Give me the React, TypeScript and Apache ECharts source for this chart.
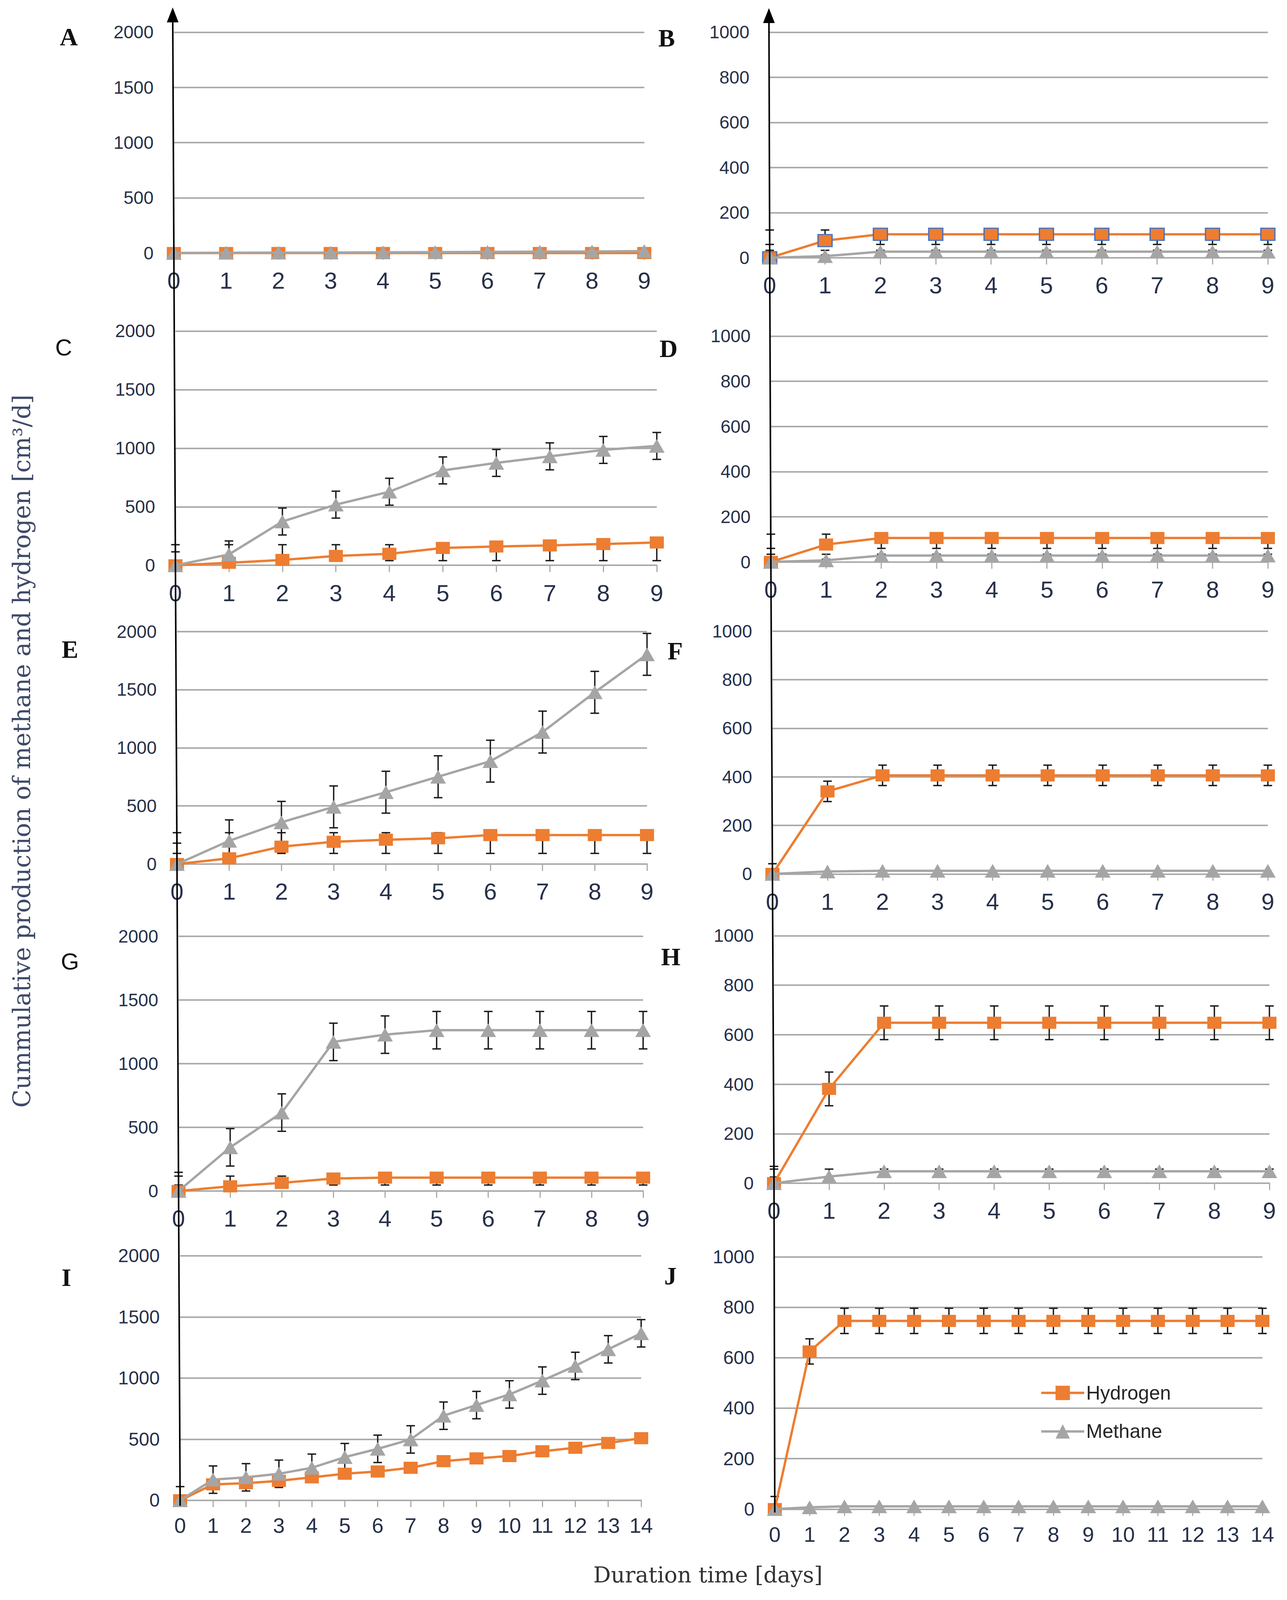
import { useEffect, useRef } from 'react';
import * as echarts from 'echarts';

// x values (days)
const days9 = [0, 1, 2, 3, 4, 5, 6, 7, 8, 9];
const days14 = [0, 1, 2, 3, 4, 5, 6, 7, 8, 9, 10, 11, 12, 13, 14];

// cumulative production, cm3/d
const hydrogenA = [0, 0, 0, 0, 0, 0, 0, 0, 0, 0];
const methaneA = [0, 2, 3, 4, 6, 8, 10, 12, 14, 17];
const hydrogenB = [0, 76, 104, 104, 104, 104, 104, 104, 104, 104];
const methaneB = [0, 7, 27, 27, 27, 27, 27, 27, 27, 27];
const hydrogenC = [0, 22, 46, 80, 98, 148, 161, 170, 182, 195];
const methaneC = [0, 93, 374, 518, 628, 810, 874, 930, 985, 1019];
const hydrogenD = [0, 77, 106, 106, 106, 106, 106, 106, 106, 106];
const methaneD = [0, 7, 28, 28, 28, 28, 28, 28, 28, 28];
const hydrogenE = [0, 50, 150, 192, 209, 222, 250, 250, 250, 250];
const methaneE = [0, 200, 359, 492, 618, 751, 885, 1135, 1477, 1803];
const hydrogenF = [0, 340, 406, 406, 406, 406, 406, 406, 406, 406];
const methaneF = [0, 10, 13, 13, 13, 13, 13, 13, 13, 13];
const hydrogenG = [0, 37, 64, 98, 105, 105, 105, 105, 105, 105];
const methaneG = [0, 343, 616, 1171, 1228, 1263, 1263, 1263, 1263, 1263];
const hydrogenH = [0, 381, 648, 648, 648, 648, 648, 648, 648, 648];
const methaneH = [0, 27, 48, 48, 48, 48, 48, 48, 48, 48];
const hydrogenI = [0, 130, 140, 159, 188, 217, 236, 266, 320, 343, 362, 401, 430, 469, 508];
const methaneI = [0, 169, 188, 217, 266, 353, 421, 498, 692, 779, 866, 979, 1099, 1235, 1366];
const hydrogenJ = [0, 625, 746, 746, 746, 746, 746, 746, 746, 746, 746, 746, 746, 746, 746];
const methaneJ = [0, 7, 11, 11, 11, 11, 11, 11, 11, 11, 11, 11, 11, 11, 11];

// error bars: a number is +/- around each point, a pair is a fixed [low, high] band
type Err = number | [number, number] | null;
const hydrogenErrB: Err = [59, 123];
const methaneErrB: Err = [12, 33];
const hydrogenErrC: Err = [40, 176];
const methaneErrC: Err = 115;
const hydrogenErrD: Err = [60, 123];
const methaneErrD: Err = [12, 34];
const hydrogenErrE: Err = [92, 270];
const methaneErrE: Err = 180;
const hydrogenErrF: Err = 42;
const hydrogenErrG: Err = [47, 117];
const methaneErrG: Err = 147;
const hydrogenErrH: Err = 68;
const methaneErrH: Err = [25, 57];
const methaneErrI: Err = 112;
const hydrogenErrJ: Err = 50;

const yTicks2000 = { max: 2000, step: 500 };
const yTicks1000 = { max: 1000, step: 200 };

const HYDROGEN = '#ED7D31';
const METHANE = '#A5A5A5';
const GRID = '#ababab';
const INK = '#26304a';
const LABEL_FONT = '"Liberation Sans Narrow", "Liberation Sans", sans-serif';

// layout is measured on the 3294 x 4718 reference
const REF_H = 4718;

interface Panel {
  letter: string;
  left: number;
  right: number;
  top: number;
  bottom: number;
  ticks: { max: number; step: number };
  days: number[];
  h: number[];
  m: number[];
  hErr: Err;
  mErr: Err;
  lx: number;
  ly: number;
  serif: boolean;
  wide?: boolean;
  blueBorder?: boolean;
}

const panels: Panel[] = [
  { letter: 'A', left: 445, right: 1649, top: 95, bottom: 746, ticks: yTicks2000, days: days9, h: hydrogenA, m: methaneA, hErr: null, mErr: null, lx: 176, ly: 109, serif: true },
  { letter: 'B', left: 1970, right: 3245, top: 95, bottom: 760, ticks: yTicks1000, days: days9, h: hydrogenB, m: methaneB, hErr: hydrogenErrB, mErr: methaneErrB, lx: 1706, ly: 112, serif: true, blueBorder: true },
  { letter: 'C', left: 449, right: 1681, top: 976, bottom: 1667, ticks: yTicks2000, days: days9, h: hydrogenC, m: methaneC, hErr: hydrogenErrC, mErr: methaneErrC, lx: 163, ly: 1025, serif: false },
  { letter: 'D', left: 1973, right: 3245, top: 991, bottom: 1657, ticks: yTicks1000, days: days9, h: hydrogenD, m: methaneD, hErr: hydrogenErrD, mErr: methaneErrD, lx: 1711, ly: 1028, serif: true },
  { letter: 'E', left: 453, right: 1656, top: 1862, bottom: 2548, ticks: yTicks2000, days: days9, h: hydrogenE, m: methaneE, hErr: hydrogenErrE, mErr: methaneErrE, lx: 179, ly: 1915, serif: true },
  { letter: 'F', left: 1977, right: 3245, top: 1861, bottom: 2577, ticks: yTicks1000, days: days9, h: hydrogenF, m: methaneF, hErr: hydrogenErrF, mErr: null, lx: 1728, ly: 1920, serif: true },
  { letter: 'G', left: 457, right: 1646, top: 2761, bottom: 3512, ticks: yTicks2000, days: days9, h: hydrogenG, m: methaneG, hErr: hydrogenErrG, mErr: methaneErrG, lx: 179, ly: 2835, serif: false },
  { letter: 'H', left: 1981, right: 3249, top: 2759, bottom: 3489, ticks: yTicks1000, days: days9, h: hydrogenH, m: methaneH, hErr: hydrogenErrH, mErr: methaneErrH, lx: 1717, ly: 2821, serif: true },
  { letter: 'I', left: 461, right: 1641, top: 3703, bottom: 4424, ticks: yTicks2000, days: days14, h: hydrogenI, m: methaneI, hErr: null, mErr: methaneErrI, lx: 170, ly: 3767, serif: true, wide: true },
  { letter: 'J', left: 1983, right: 3231, top: 3706, bottom: 4450, ticks: yTicks1000, days: days14, h: hydrogenJ, m: methaneJ, hErr: hydrogenErrJ, mErr: null, lx: 1716, ly: 3763, serif: true, wide: true },
];

function errorBars(days: number[], values: number[], err: Err) {
  if (err === null) return [];
  return days.map((d, i) => {
    const [lo, hi] = typeof err === 'number' ? [values[i] - err, values[i] + err] : err;
    return [d, Math.max(0, lo), hi];
  });
}

const renderErrorBar = (_params: any, api: any) => {
  const x = api.value(0);
  const lo = api.coord([x, api.value(1)]);
  const hi = api.coord([x, api.value(2)]);
  const w = 11;
  const style = { stroke: '#1a1a1a', lineWidth: 3.5 };
  return {
    type: 'group',
    children: [
      { type: 'line', shape: { x1: lo[0], y1: lo[1], x2: hi[0], y2: hi[1] }, style },
      { type: 'line', shape: { x1: lo[0] - w, y1: lo[1], x2: lo[0] + w, y2: lo[1] }, style },
      { type: 'line', shape: { x1: hi[0] - w, y1: hi[1], x2: hi[0] + w, y2: hi[1] }, style },
    ],
  };
};

function text(x: number, y: number, content: string, font: string, fill: string, rotation = 0) {
  return {
    type: 'text',
    x,
    y,
    rotation,
    z: 50,
    style: { text: content, font, fill, align: 'center', verticalAlign: 'middle', textAlign: 'center', textVerticalAlign: 'middle' },
  };
}

export default function App() {
  const ref = useRef<HTMLDivElement>(null);

  useEffect(() => {
    if (!ref.current) {
      return undefined;
    }
    // the window may be shorter than the reference: squeeze the layout vertically to fit
    const sy = Math.min(1, (window.innerHeight || REF_H) / REF_H);
    const Y = (v: number) => v * sy;
    ref.current.style.height = `${Math.floor(REF_H * sy)}px`;

    const chart = echarts.init(ref.current, undefined, { renderer: 'svg' });

    const series: any[] = [];
    panels.forEach((p, i) => {
      const errData = [...errorBars(p.days, p.h, p.hErr), ...errorBars(p.days, p.m, p.mErr)];
      if (errData.length) {
        series.push({
          type: 'custom',
          name: `err${p.letter}`,
          xAxisIndex: i,
          yAxisIndex: i,
          renderItem: renderErrorBar,
          encode: { x: 0, y: [1, 2] },
          data: errData,
          z: 2,
        });
      }
      series.push({
        type: 'line',
        name: 'Hydrogen',
        xAxisIndex: i,
        yAxisIndex: i,
        data: p.days.map((d, k) => [d, p.h[k]]),
        symbol: 'rect',
        symbolSize: [36, Math.round(36 * sy)],
        clip: false,
        lineStyle: { color: HYDROGEN, width: 6 },
        itemStyle: { color: HYDROGEN, borderColor: p.blueBorder ? '#4472C4' : HYDROGEN, borderWidth: p.blueBorder ? 3 : 0 },
        z: 3,
      });
      series.push({
        type: 'line',
        name: 'Methane',
        xAxisIndex: i,
        yAxisIndex: i,
        data: p.days.map((d, k) => [d, p.m[k]]),
        symbol: 'triangle',
        symbolSize: [40, Math.round(40 * sy)],
        clip: false,
        lineStyle: { color: METHANE, width: 6 },
        itemStyle: { color: METHANE },
        z: 4,
      });
    });

    const leftAxis = [[442, 30], [445, 746], [449, 1667], [453, 2548], [457, 3512], [461, 4440]];
    const rightAxis = [[1968, 32], [1970, 760], [1973, 1657], [1977, 2577], [1981, 3489], [1983, 4460]];
    const toPx = (pts: number[][]) => pts.map(([x, y]) => [x, Y(y)]);

    const graphic: any[] = [
      { type: 'polyline', z: 40, shape: { points: toPx(leftAxis) }, style: { stroke: '#000', lineWidth: 4, fill: null } },
      { type: 'polyline', z: 40, shape: { points: toPx(rightAxis) }, style: { stroke: '#000', lineWidth: 4, fill: null } },
      { type: 'polygon', z: 40, shape: { points: toPx([[442, 22], [427, 66], [457, 66]]) }, style: { fill: '#000' } },
      { type: 'polygon', z: 40, shape: { points: toPx([[1968, 24], [1953, 68], [1983, 68]]) }, style: { fill: '#000' } },
      ...panels.map((p) =>
        text(p.lx, Y(p.ly), p.letter, p.serif ? 'bold 64px "Liberation Serif"' : '60px "Liberation Sans"', '#111'),
      ),
      text(55, Y(2215), 'Cummulative production of methane and hydrogen [cm³/d]', `${Math.round(70 * sy)}px "DejaVu Serif"`, '#3e4a68', Math.PI / 2),
      text(1812, Y(4644), 'Duration time [days]', '56px "DejaVu Serif"', '#333'),
    ];

    const legendItem = 46;
    const option: echarts.EChartsOption = {
      animation: false,
      backgroundColor: '#fff',
      grid: panels.map((p) => ({ left: p.left, top: Y(p.top), width: p.right - p.left, height: Y(p.bottom) - Y(p.top) })),
      xAxis: panels.map((p, i) => ({
        gridIndex: i,
        type: 'value',
        min: 0,
        max: p.days[p.days.length - 1],
        interval: 1,
        axisLine: { show: true, lineStyle: { color: GRID, width: 4 } },
        axisTick: { show: true, length: Y(20), lineStyle: { color: GRID, width: 3 } },
        splitLine: { show: false },
        axisLabel: {
          fontSize: p.wide ? 54 : 60,
          margin: p.wide ? Y(78) - 30 : Y(85) - 33,
          color: INK,
          fontFamily: LABEL_FONT,
        },
      })),
      yAxis: panels.map((p, i) => ({
        gridIndex: i,
        type: 'value',
        min: 0,
        max: p.ticks.max,
        interval: p.ticks.step,
        axisLine: { show: false },
        axisTick: { show: false },
        splitLine: { show: true, lineStyle: { color: GRID, width: 4 } },
        axisLabel: {
          fontSize: p.wide ? 48 : 46,
          margin: 52,
          color: INK,
          fontFamily: LABEL_FONT,
          formatter: (v: number) => String(v),
        },
      })),
      legend: {
        data: ['Hydrogen', 'Methane'],
        orient: 'vertical',
        left: 2662,
        top: Y(4105) - legendItem / 2,
        itemWidth: 110,
        itemHeight: legendItem,
        itemGap: Y(109) - legendItem,
        padding: 0,
        selectedMode: false,
        lineStyle: { width: 6 },
        textStyle: { fontSize: 50, color: '#262626', fontFamily: LABEL_FONT },
      },
      graphic,
      series,
    };

    chart.setOption(option);
    return () => {
      chart.dispose();
    };
  }, []);

  return <div ref={ref} style={{ position: 'absolute', left: 0, top: 0, width: 3294, height: REF_H }} />;
}
